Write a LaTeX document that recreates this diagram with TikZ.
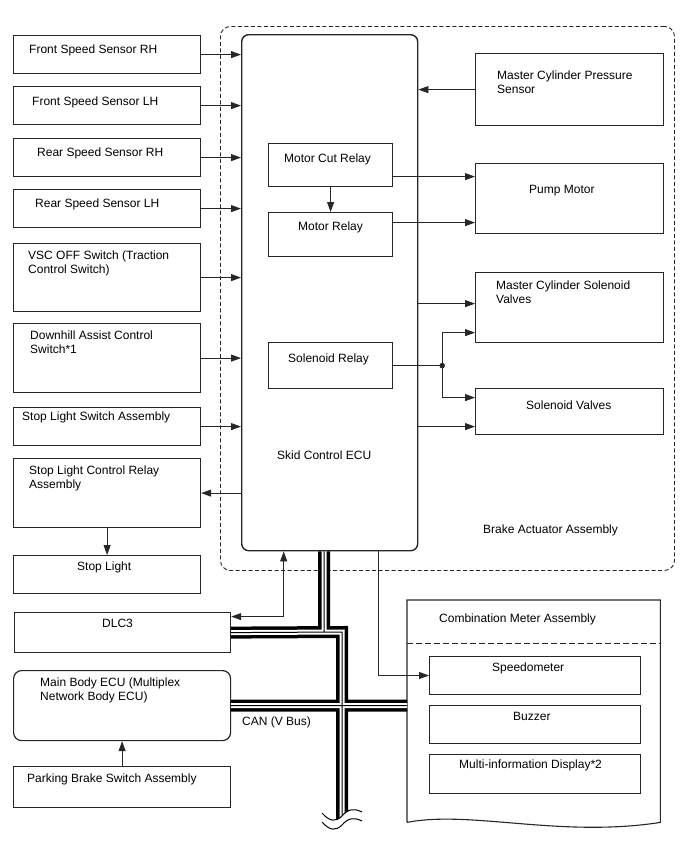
\documentclass[tikz,border=0pt]{standalone}
\usepackage{fontspec}
\setmainfont{Liberation Sans}
\usetikzlibrary{arrows.meta}
\begin{document}
\begin{tikzpicture}[x=1pt,y=-1pt,
  every node/.style={font=\fontsize{12}{14}\selectfont},
  box/.style={draw=black!85,line width=1.2pt,anchor=north west,inner sep=0pt},
  txt/.style={anchor=base west,align=left,inner sep=0pt},
  wire/.style={draw=black!85,line width=0.8pt},
  arr/.style={wire,-{Triangle[length=10pt,width=7pt]}},
  dualarr/.style={wire,{Triangle[length=10pt,width=7pt]}-{Triangle[length=10pt,width=7pt]}}]
\useasboundingbox (0,0) rectangle (688,852);
% brake actuator assembly
\node[box,line width=0.9pt,dash pattern=on 4pt off 2.5pt,rounded corners=10pt,minimum width=454pt,minimum height=544pt] (bact) at (220,26) {};
\node[txt] (bact-t) at (483,533) {Brake Actuator Assembly};
\node[box,line width=1.4pt,rounded corners=7pt,minimum width=176pt,minimum height=516pt] (ecu) at (241,34) {};
\node[txt] (ecu-t) at (277,459) {Skid Control ECU};
\node[box,minimum width=124pt,minimum height=43pt] (mcr) at (268,143) {};
\node[txt] (mcr-t) at (284,162) {Motor Cut Relay};
\node[box,minimum width=124pt,minimum height=44pt] (mr) at (268,212) {};
\node[txt] (mr-t) at (298,230) {Motor Relay};
\node[box,minimum width=124pt,minimum height=46pt] (sr) at (268,342) {};
\node[txt] (sr-t) at (288,362) {Solenoid Relay};
\node[box,minimum width=188pt,minimum height=72pt] (mcps) at (475,53) {};
\node[txt] (mcps-t) at (497,93) {Master Cylinder Pressure\\Sensor};
\node[box,minimum width=188pt,minimum height=70pt] (pump) at (475,163) {};
\node[txt] (pump-t) at (529,193) {Pump Motor};
\node[box,minimum width=188pt,minimum height=70pt] (mcsv) at (475,272) {};
\node[txt] (mcsv-t) at (496,303) {Master Cylinder Solenoid\\Valves};
\node[box,minimum width=188pt,minimum height=46pt] (sv) at (475,388) {};
\node[txt] (sv-t) at (526,409) {Solenoid Valves};
% inputs on the left
\node[box,minimum width=187pt,minimum height=38pt] (fsrh) at (13,35) {};
\node[txt] (fsrh-t) at (29,53) {Front Speed Sensor RH};
\node[box,minimum width=187pt,minimum height=38pt] (fslh) at (13,86) {};
\node[txt] (fslh-t) at (32,105) {Front Speed Sensor LH};
\node[box,minimum width=187pt,minimum height=38pt] (rsrh) at (13,138) {};
\node[txt] (rsrh-t) at (37,156) {Rear Speed Sensor RH};
\node[box,minimum width=187pt,minimum height=38pt] (rslh) at (13,189) {};
\node[txt] (rslh-t) at (35,207) {Rear Speed Sensor LH};
\node[box,minimum width=187pt,minimum height=68pt] (vsc) at (13,243) {};
\node[txt] (vsc-t) at (28,273) {VSC OFF Switch (Traction\\Control Switch)};
\node[box,minimum width=187pt,minimum height=69pt] (dac) at (13,323) {};
\node[txt] (dac-t) at (30,353) {Downhill Assist Control\\Switch*1};
\node[box,minimum width=187pt,minimum height=38pt] (slsa) at (13,407) {};
\node[txt] (slsa-t) at (22,420) {Stop Light Switch Assembly};
\node[box,minimum width=187pt,minimum height=69pt] (slcra) at (13,458) {};
\node[txt] (slcra-t) at (29,488) {Stop Light Control Relay\\Assembly};
\node[box,minimum width=187pt,minimum height=38pt] (stop) at (13,555) {};
\node[txt] (stop-t) at (77,570) {Stop Light};
% lower part
\node[box,minimum width=216pt,minimum height=40pt] (dlc3) at (14,612) {};
\node[txt] (dlc3-t) at (102,627) {DLC3};
\node[box,rounded corners=8pt,minimum width=217pt,minimum height=70pt] (mbecu) at (13,670) {};
\node[txt] (mbecu-t) at (40,700) {Main Body ECU (Multiplex\\Network Body ECU)};
\node[box,minimum width=217pt,minimum height=41pt] (pbsa) at (13,766) {};
\node[txt] (pbsa-t) at (27,782) {Parking Brake Switch Assembly};
\node[txt] (can-t) at (242,725) {CAN (V Bus)};
\node[anchor=north west,inner sep=0pt,minimum width=253pt,minimum height=222pt] (cma) at (407,600) {};
\draw[draw=black!85,line width=1.1pt] (cma.south west) -- (cma.north west) -- (cma.north east) -- (cma.south east)
  .. controls (560,838) and (470,810) .. (cma.south west);
\draw[draw=black!85,line width=1pt,dash pattern=on 6pt off 3pt] ([yshift=-43pt]cma.north west) -- ([yshift=-43pt]cma.north east);
\node[txt] (cma-t) at (439,622) {Combination Meter Assembly};
\node[box,line width=1pt,minimum width=211pt,minimum height=38pt] (speedo) at (429,656) {};
\node[txt] (speedo-t) at (492,671) {Speedometer};
\node[box,line width=1pt,minimum width=211pt,minimum height=38pt] (buzz) at (429,705) {};
\node[txt] (buzz-t) at (513,720) {Buzzer};
\node[box,line width=1pt,minimum width=211pt,minimum height=39pt] (mid) at (429,754) {};
\node[txt] (mid-t) at (459,768) {Multi-information Display*2};
% signal lines
\draw[arr] (fsrh.east) -- (fsrh.east -| ecu.west);
\draw[arr] (fslh.east) -- (fslh.east -| ecu.west);
\draw[arr] (rsrh.east) -- (rsrh.east -| ecu.west);
\draw[arr] (rslh.east) -- (rslh.east -| ecu.west);
\draw[arr] (vsc.east) -- (vsc.east -| ecu.west);
\draw[arr] (dac.east) -- (dac.east -| ecu.west);
\draw[arr] (slsa.east) -- (slsa.east -| ecu.west);
\draw[arr] (slcra.east -| ecu.west) -- (slcra.east);
\draw[arr] (slcra.south) -- (stop.north);
\draw[arr] (mcps.west) -- (mcps.west -| ecu.east);
\draw[arr] (mcr.south) -- (mr.north);
\draw[arr] ([yshift=-11.5pt]mcr.east) -- ([yshift=-11.5pt]mcr.east -| pump.west);
\draw[arr] ([yshift=12pt]mr.east) -- ([yshift=12pt]mr.east -| pump.west);
\draw[arr] ([yshift=4pt]mcsv.west -| ecu.east) -- ([yshift=4pt]mcsv.west);
\coordinate (dot) at ([xshift=49pt]sr.east);
\draw[wire] (sr.east) -- (dot);
\fill[black!85] (dot) circle (2.8pt);
\draw[arr] (dot) |- ([yshift=-25pt]mcsv.west);
\draw[arr] (dot) |- ([yshift=14pt]sv.west);
\draw[arr] ([yshift=-15pt]sv.west -| ecu.east) -- ([yshift=-15pt]sv.west);
\draw[dualarr] ([yshift=16pt]dlc3.east) -| ([xshift=-46pt]ecu.south);
\draw[arr] ([xshift=49pt]ecu.south) |- (speedo.west);
\draw[arr] (pbsa.north) -- (pbsa.north |- mbecu.south);
% CAN bus
\coordinate (j1) at (324,632);
\coordinate (j2) at (342,632);
\coordinate (brk) at (342,830);
\foreach \lw/\col in {12/black,5/white,1/black}
  \draw[line width=\lw pt,\col] (ecu.south -| j1) -- (j1) (dlc3.east) -- (j2) -- (brk)
    (mbecu.east) -- (mbecu.east -| cma.west);
\fill[white] (322,813) .. controls (330,822) and (336,822) .. (342,816) .. controls (348,809) and (354,808) .. (362,812)
  -- (362,840) -- (322,840) -- cycle;
\draw[line width=1pt] (322,813) .. controls (330,822) and (336,822) .. (342,816) .. controls (348,809) and (354,808) .. (362,812);
\draw[line width=1pt] (322,822) .. controls (330,831) and (336,831) .. (342,825) .. controls (348,818) and (354,817) .. (362,821);
\end{tikzpicture}
\end{document}
